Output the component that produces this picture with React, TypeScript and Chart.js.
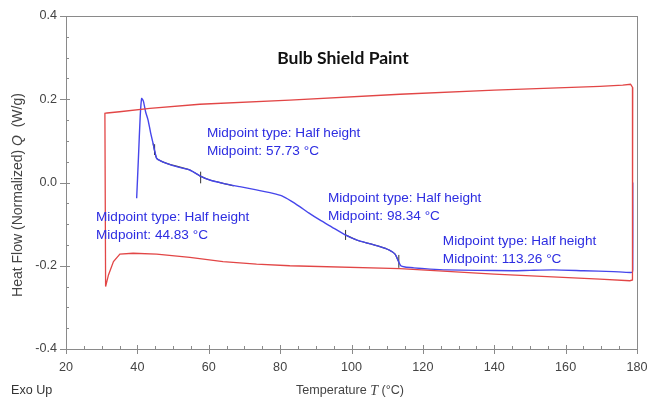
import React, { useEffect, useRef } from "react";
import { Chart, registerables } from "chart.js";

Chart.register(...registerables);

// ---- Data ----
const xTicks = [20, 40, 60, 80, 100, 120, 140, 160, 180];
const yTicks = [-0.4, -0.2, 0.0, 0.2, 0.4];

// Red curve (heat flow loop), temperature °C and heat flow W/g
const redT = [31.1, 30.9, 31.5, 35, 43.5, 57.5, 82.7, 113.6, 140, 169.6, 176, 178.2, 178.8, 178.8, 178.8, 178.6, 178, 169.6, 140, 113.6, 82.7, 73.4, 64, 54.7, 45.4, 38.8, 35.1, 33.3, 31.9, 31.1];
const redQ = [-0.25, 0.166, 0.167, 0.17, 0.178, 0.188, 0.198, 0.212, 0.222, 0.231, 0.234, 0.236, 0.228, 0.0, -0.22, -0.234, -0.236, -0.232, -0.22, -0.207, -0.2, -0.196, -0.19, -0.18, -0.172, -0.17, -0.172, -0.19, -0.222, -0.25];

// Blue curve
const blueT = [39.8, 40.3, 40.8, 41.2, 41.7, 42.3, 43.0, 43.7, 44.4, 45.4, 46.5, 48.2, 51, 54.7, 57.5, 60.3, 64, 68.7, 73, 78, 80.5, 83, 85.5, 88, 91.1, 94.5, 98.1, 101.4, 105, 108, 110.5, 112.2, 113.2, 113.8, 115, 117.4, 122, 126.7, 135, 145.4, 150, 156.6, 165, 173.4, 178.6, 178.8, 178.8];
const blueQ = [-0.038, 0.06, 0.16, 0.202, 0.195, 0.17, 0.15, 0.12, 0.094, 0.058, 0.052, 0.046, 0.038, 0.03, 0.016, 0.006, -0.002, -0.01, -0.017, -0.026, -0.032, -0.044, -0.058, -0.073, -0.09, -0.107, -0.125, -0.138, -0.147, -0.154, -0.162, -0.172, -0.19, -0.2, -0.203, -0.205, -0.208, -0.21, -0.211, -0.212, -0.211, -0.21, -0.212, -0.214, -0.216, -0.21, 0.0];

// Black fitted segments over transitions
const fitAT = [44.4, 45.4, 48.2, 54.7, 57.5, 60.3, 64, 67];
const fitAQ = [0.094, 0.058, 0.046, 0.030, 0.016, 0.006, -0.002, -0.008];
const fitBT = [98.1, 101.4, 105, 108, 110.5, 112.2, 113.2];
const fitBQ = [-0.125, -0.138, -0.147, -0.154, -0.162, -0.172, -0.19];

// Midpoint markers (temperature, low Q, high Q)
const markT = [44.83, 57.73, 98.34, 113.26];
const markLo = [0.066, -0.002, -0.138, -0.205];
const markHi = [0.092, 0.026, -0.114, -0.174];

// Annotation labels
const midpointValues = ["44.83", "57.73", "98.34", "113.26"];
const annT = [28.4, 59.5, 93.4, 125.6];
const annQ = [-0.083, 0.119, -0.037, -0.14];

const FONT = "'Liberation Sans', Arial, sans-serif";
const AXIS = "#8a8a8a";
const TXT = "#444444";
const RED = "rgb(226,70,70)";
const BLUE = "rgb(70,70,235)";
const ANN = "rgb(45,45,225)";

const pts = (xs: number[], ys: number[]) => xs.map((x, i) => ({ x, y: ys[i] }));

const decorPlugin = {
  id: "decor",
  afterDraw(chart: any) {
    const { ctx, chartArea: ca, scales } = chart;
    const xs = scales.x;
    const ys = scales.y;
    ctx.save();
    // box (top and right)
    ctx.strokeStyle = AXIS;
    ctx.lineWidth = 1;
    ctx.beginPath();
    ctx.moveTo(ca.left, Math.round(ca.top) + 0.5);
    ctx.lineTo(ca.right, Math.round(ca.top) + 0.5);
    ctx.moveTo(Math.round(ca.right) + 0.5, ca.top);
    ctx.lineTo(Math.round(ca.right) + 0.5, ca.bottom);
    ctx.stroke();
    // y ticks
    ctx.beginPath();
    for (let i = -8; i <= 8; i++) {
      const py = Math.round(ys.getPixelForValue(i * 0.05)) + 0.5;
      const major = i % 4 === 0;
      const x0 = ca.left;
      ctx.moveTo(major ? x0 - 6 : x0, py);
      ctx.lineTo(x0 + (major ? 4 : 3), py);
    }
    // x ticks
    for (let t = 20; t <= 180; t += 5) {
      const px = Math.round(xs.getPixelForValue(t)) + 0.5;
      const major = t % 20 === 0;
      const y0 = ca.bottom;
      ctx.moveTo(px, major ? y0 + 5 : y0);
      ctx.lineTo(px, y0 - (major ? 4 : 3));
    }
    ctx.stroke();

    // annotations
    ctx.fillStyle = ANN;
    ctx.font = `13.6px ${FONT}`;
    ctx.textAlign = "left";
    ctx.textBaseline = "middle";
    for (let i = 0; i < annT.length; i++) {
      const px = xs.getPixelForValue(annT[i]);
      const py = ys.getPixelForValue(annQ[i]);
      ctx.fillText("Midpoint type: Half height", px, py);
      ctx.fillText(`Midpoint: ${midpointValues[i]} °C`, px, py + 18);
    }

    // title
    ctx.fillStyle = "#111";
    ctx.font = `bold 17.5px Lato, 'Open Sans', sans-serif`;
    ctx.textAlign = "center";
    ctx.fillText("Bulb Shield Paint", 343, 58);

    // x axis title with italic T
    const drawMixed = (parts: [string, string][], cx: number, cy: number) => {
      let total = 0;
      for (const [t, f] of parts) {
        ctx.font = f;
        total += ctx.measureText(t).width;
      }
      let x = cx - total / 2;
      ctx.textAlign = "left";
      for (const [t, f] of parts) {
        ctx.font = f;
        ctx.fillText(t, x, cy);
        x += ctx.measureText(t).width;
      }
    };
    ctx.fillStyle = TXT;
    ctx.textBaseline = "middle";
    drawMixed(
      [
        ["Temperature ", `12.6px ${FONT}`],
        ["T", `italic 14px 'Liberation Serif', serif`],
        [" (°C)", `12.6px ${FONT}`],
      ],
      350,
      391
    );
    // y axis title rotated
    ctx.save();
    ctx.translate(18, 195);
    ctx.rotate(-Math.PI / 2);
    drawMixed(
      [
        ["Heat Flow (Normalized) ", `14px ${FONT}`],
        ["Q", `italic 14px ${FONT}`],
        ["  (W/g)", `14px ${FONT}`],
      ],
      0,
      0
    );
    ctx.restore();
    // Exo Up
    ctx.font = `12.6px ${FONT}`;
    ctx.textAlign = "left";
    ctx.fillStyle = "#333";
    ctx.fillText("Exo Up", 11, 391);
    ctx.restore();
  },
};

export default function App() {
  const ref = useRef<HTMLCanvasElement>(null);
  useEffect(() => {
    document.body.style.margin = "0";
    const canvas = ref.current!;
    const thin = { showLine: true, pointRadius: 0, fill: false };
    const markers = markT.map((t, i) => ({
      ...thin,
      data: [
        { x: t, y: markLo[i] },
        { x: t, y: markHi[i] },
      ],
      borderColor: "#333",
      borderWidth: 1,
    }));
    const chart = new Chart(canvas, {
      type: "scatter",
      data: {
        datasets: [
          { ...thin, data: pts(redT, redQ), borderColor: RED, borderWidth: 1.3, tension: 0 },
          { ...thin, data: pts(blueT, blueQ), borderColor: BLUE, borderWidth: 1.4, tension: 0.2 },
          { ...thin, data: pts(fitAT, fitAQ), borderColor: "rgba(30,30,30,0.8)", borderWidth: 1.2, tension: 0.2 },
          { ...thin, data: pts(fitBT, fitBQ), borderColor: "rgba(30,30,30,0.8)", borderWidth: 1.2, tension: 0.2 },
          ...markers,
        ] as any,
      },
      options: {
        animation: false,
        responsive: false,
        devicePixelRatio: 1,
        layout: { padding: { left: 0, right: 0, top: 16, bottom: 0 } },
        plugins: { legend: { display: false }, tooltip: { enabled: false }, title: { display: false } },
        scales: {
          x: {
            type: "linear",
            min: 20,
            max: 180,
            afterFit: (s: any) => {
              s.height = 54;
              s.paddingLeft = 0;
              s.paddingRight = 10;
            },
            afterBuildTicks: (s: any) => {
              s.ticks = xTicks.map((v) => ({ value: v }));
            },
            ticks: { color: TXT, font: { family: FONT, size: 12.6 }, padding: 11, maxRotation: 0, autoSkip: false },
            grid: { display: true, drawOnChartArea: false, drawTicks: false },
            border: { display: true, color: AXIS },
          },
          y: {
            type: "linear",
            min: -0.4,
            max: 0.4,
            afterFit: (s: any) => {
              s.width = 66;
              s.paddingTop = 0;
              s.paddingBottom = 0;
            },
            afterBuildTicks: (s: any) => {
              s.ticks = yTicks.map((v) => ({ value: v }));
            },
            ticks: {
              color: TXT,
              font: { family: FONT, size: 12.6 },
              padding: 9,
              callback: (v: any) => (Math.abs(v) < 1e-9 ? "0.0" : Number(v).toFixed(1)),
            },
            grid: { display: true, drawOnChartArea: false, drawTicks: false },
            border: { display: true, color: AXIS },
          },
        },
      } as any,
      plugins: [decorPlugin],
    });
    return () => chart.destroy();
  }, []);
  return (
    <div style={{ width: 647, height: 403, background: "#fff" }}>
      <canvas ref={ref} width={647} height={403} />
    </div>
  );
}
